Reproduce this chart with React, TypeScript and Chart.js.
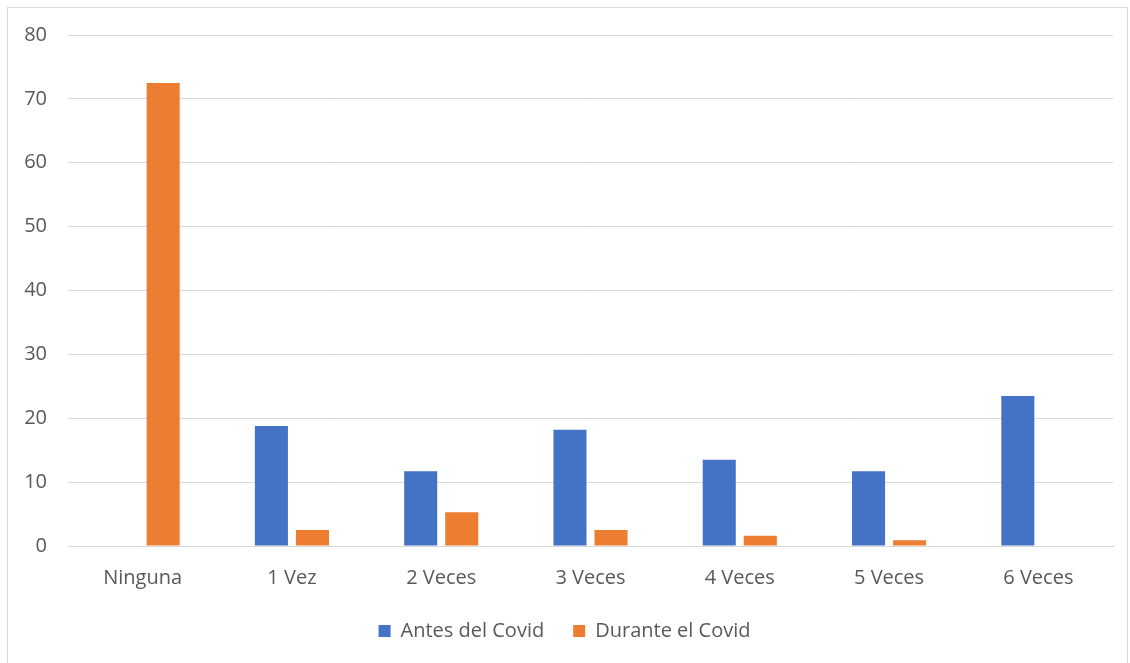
import React, { useEffect, useRef } from "react";
import { Chart, registerables } from "chart.js";

Chart.register(...registerables);

const categories = ["Ninguna", "1 Vez", "2 Veces", "3 Veces", "4 Veces", "5 Veces", "6 Veces"];
const antesDelCovid = [0, 18.8, 11.7, 18.2, 13.5, 11.7, 23.5];
const duranteElCovid = [72.5, 2.5, 5.3, 2.5, 1.6, 0.9, 0];
const seriesNames = ["Antes del Covid", "Durante el Covid"];
const yMin = 0;
const yMax = 80;
const yStep = 10;

const FONT = "'Open Sans', 'Liberation Sans', sans-serif";

export default function App() {
  const canvasRef = useRef<HTMLCanvasElement | null>(null);

  useEffect(() => {
    if (!canvasRef.current) return;
    const chart = new Chart(canvasRef.current, {
      type: "bar",
      data: {
        labels: categories,
        datasets: [
          {
            label: seriesNames[0],
            data: antesDelCovid,
            backgroundColor: "#4472C4",
            categoryPercentage: 0.55,
            barPercentage: 0.805,
          },
          {
            label: seriesNames[1],
            data: duranteElCovid,
            backgroundColor: "#ED7D31",
            categoryPercentage: 0.55,
            barPercentage: 0.805,
          },
        ],
      },
      options: {
        animation: false,
        responsive: true,
        maintainAspectRatio: false,
        layout: { padding: { left: 8, right: 14, top: 27, bottom: 12 } },
        plugins: {
          tooltip: { enabled: false },
          legend: {
            position: "bottom",
            labels: {
              boxWidth: 12,
              boxHeight: 12,
              padding: 29,
              color: "#595959",
              font: { family: FONT, size: 20 },
            },
          },
        },
        scales: {
          x: {
            grid: { display: false, drawTicks: false },
            border: { display: true, color: "#d9d9d9" },
            ticks: {
              padding: 20,
              color: "#595959",
              font: { family: FONT, size: 20 },
            },
            afterFit: (axis: any) => {
              axis.height = 46;
            },
          },
          y: {
            min: yMin,
            max: yMax,
            grid: { color: "#d9d9d9", drawTicks: false, lineWidth: 1 },
            border: { display: false },
            ticks: {
              stepSize: yStep,
              padding: 21,
              color: "#595959",
              font: { family: FONT, size: 20 },
            },
            afterFit: (axis: any) => {
              axis.width = 52;
              axis.paddingTop = 0;
              axis.paddingBottom = 0;
            },
          },
        },
      },
    });
    return () => chart.destroy();
  }, []);

  return (
    <div
      style={{
        position: "absolute",
        left: 7,
        top: 7,
        width: 1121,
        height: 660,
        border: "1px solid #d9d9d9",
        boxSizing: "border-box",
        background: "#fff",
      }}
    >
      <div style={{ position: "relative", width: 1119, height: 655 }}>
        <canvas ref={canvasRef} />
      </div>
    </div>
  );
}
